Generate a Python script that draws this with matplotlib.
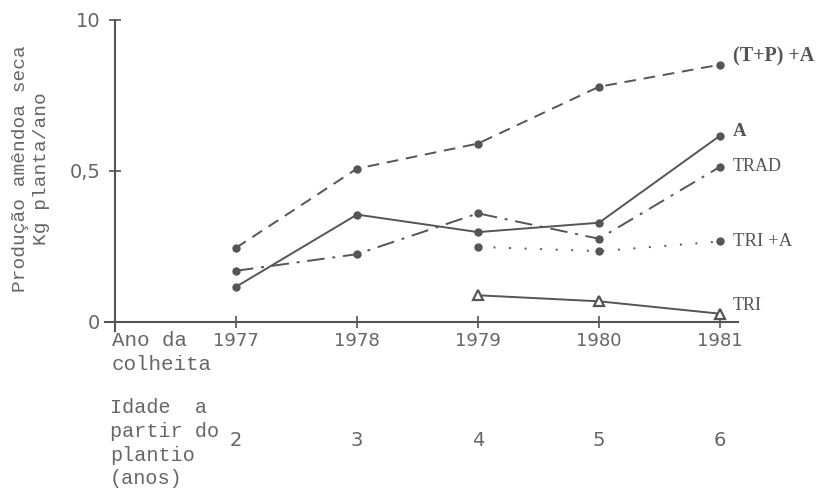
import matplotlib
matplotlib.use('Agg')
import matplotlib.pyplot as plt
import matplotlib.transforms as mtrans

anos = [1977, 1978, 1979, 1980, 1981]
idades = [2, 3, 4, 5, 6]

tpa = [0.245, 0.507, 0.59, 0.778, 0.851]      # (T+P)+A
a = [0.116, 0.355, 0.297, 0.328, 0.616]       # A
trad = [0.169, 0.224, 0.359, 0.275, 0.513]    # TRAD
anos_tri = [1979, 1980, 1981]
tri_a = [0.248, 0.234, 0.266]                 # TRI+A
tri = [0.088, 0.068, 0.027]                   # TRI

cor = '#555555'
cor_txt = '#666666'

fig = plt.figure(figsize=(8.24, 4.91), dpi=100)
ax = fig.add_axes([0.1278, 0.326, 0.768, 0.634])

ax.plot(anos, tpa, color=cor, lw=1.4, ls=(0, (6, 4)), marker='o', ms=5)
ax.plot(anos, a, color=cor, lw=1.4, ls='-', marker='o', ms=5)
ax.plot(anos, trad, color=cor, lw=1.4, ls=(0, (9, 4, 1.5, 4)), marker='o', ms=5)
ax.plot(anos_tri, tri_a, color=cor, lw=1.4, ls=(0, (1, 7)), marker='o', ms=5)
ax.plot(anos_tri, tri, color=cor, lw=1.4, ls='-', marker='^', ms=7,
        mfc='white', mec=cor, mew=1.6)

# rotulos das series
rot = [('(T+P) +A', tpa[-1], 'bold', (9.5, 6), 14.5),
       ('A', a[-1], 'bold', (9.5, 3), 13.5),
       ('TRAD', trad[-1], 'normal', (9.5, 0), 13),
       ('TRI +A', tri_a[-1], 'normal', (9.5, 0), 13.5),
       ('TRI', tri[-1], 'normal', (9.5, 6), 13)]
for txt, v, w, off, fs in rot:
    ax.annotate(txt, (1981, v), xytext=off, textcoords='offset points',
                ha='left', va='center', family='Liberation Serif',
                weight=w, fontsize=fs, color=cor)

ax.set_xlim(1975.92, 1981.15)
ax.set_ylim(-0.03, 1.0)
for s in ['top', 'right']:
    ax.spines[s].set_visible(False)
ax.spines['left'].set_position(('data', 1976))
ax.spines['bottom'].set_position(('data', 0))
for s in ['left', 'bottom']:
    ax.spines[s].set_color(cor)
    ax.spines[s].set_linewidth(1.5)

ax.set_yticks([0, 0.5, 1.0])
ax.set_yticklabels(['0', '0,5', '10'])
ax.set_xticks(anos)
ax.set_xticklabels([str(x) for x in anos])
ax.tick_params(axis='both', direction='inout', length=9, width=1.2,
               colors=cor, labelcolor=cor_txt, labelsize=13)
ax.tick_params(axis='x', pad=3)
ax.tick_params(axis='y', labelsize=14, pad=6)

ax.set_ylabel('Produção amêndoa seca\nKg planta/ano', family='Liberation Mono',
              fontsize=14, color=cor_txt, linespacing=1.3)
ax.yaxis.set_label_coords(-0.088, 0.52)

# textos abaixo do eixo x
fig.text(112 / 824, 1 - 331 / 491, 'Ano da\ncolheita',
         family='Liberation Mono', fontsize=15, color=cor_txt,
         ha='left', va='top', linespacing=1.3)
fig.text(110 / 824, 1 - 398 / 491, 'Idade  a\npartir do\nplantio\n(anos)',
         family='Liberation Mono', fontsize=14.5, color=cor_txt,
         ha='left', va='top', linespacing=1.32)
tr = mtrans.blended_transform_factory(ax.transData, fig.transFigure)
for x, i in zip(anos, idades):
    ax.text(x, 1 - 441 / 491, str(i), transform=tr, ha='center',
            va='center', fontsize=14, color=cor_txt)

fig.savefig('out.png', dpi=100)
